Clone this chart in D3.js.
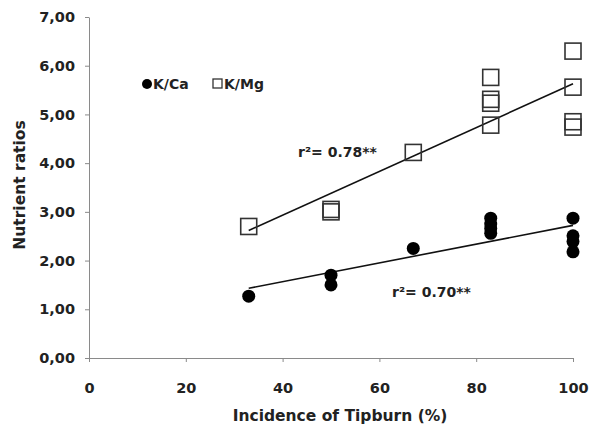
<!DOCTYPE html>
<html>
<head>
<meta charset="utf-8">
<script src="https://cdn.jsdelivr.net/npm/d3@7"></script>
<style>
  body { margin: 0; background: #fff; }
  svg text { font-family: "DejaVu Sans", sans-serif; font-weight: 700; fill: #222; }
</style>
</head>
<body>
<svg id="chart" width="590" height="429"></svg>
<script>
var svg = d3.select("#chart");

// data
const kcaX = [33, 50, 50, 67, 83, 83, 83, 83, 100, 100, 100, 100];
const kcaY = [1.27, 1.70, 1.50, 2.25, 2.87, 2.75, 2.66, 2.56, 2.87, 2.51, 2.39, 2.18];
const kmgX = [33, 50, 50, 67, 83, 83, 83, 83, 100, 100, 100, 100];
const kmgY = [2.70, 3.00, 3.05, 4.22, 5.76, 5.31, 5.23, 4.78, 6.30, 5.56, 4.85, 4.74];
const xTicks = [0, 20, 40, 60, 80, 100];
const yTicks = [0, 1, 2, 3, 4, 5, 6, 7];
const kcaLabel = "r\u00b2= 0.70**";
const kmgLabel = "r\u00b2= 0.78**";

const axisColor = "#8a8a8a";

var x = d3.scaleLinear().domain([0, 100]).range([89, 573]);
var y = d3.scaleLinear().domain([0, 7]).range([358, 17]);

// axes
var xAxis = svg.append("g")
    .attr("transform", "translate(0," + y(0) + ")")
    .call(d3.axisBottom(x).tickValues(xTicks).tickSize(4).tickSizeOuter(0).tickPadding(21));
var yAxis = svg.append("g")
    .attr("transform", "translate(" + x(0) + ",0)")
    .call(d3.axisLeft(y).tickValues(yTicks).tickSize(4).tickSizeOuter(0).tickPadding(10)
        .tickFormat(d => d.toFixed(2).replace(".", ",")));

svg.selectAll(".domain, .tick line").attr("stroke", axisColor).attr("stroke-width", 1);
svg.selectAll(".tick text").style("font-size", "14.5px").attr("fill", "#222");

// axis titles
svg.append("text")
    .attr("x", 340).attr("y", 421)
    .attr("text-anchor", "middle")
    .style("font-size", "15.5px")
    .text("Incidence of Tipburn (%)");
svg.append("text")
    .attr("transform", "translate(25," + 185 + ") rotate(-90)")
    .attr("text-anchor", "middle")
    .style("font-size", "15.5px")
    .text("Nutrient ratios");

// least squares fit
function fit(xs, ys) {
    var mx = d3.mean(xs), my = d3.mean(ys);
    var sxy = d3.sum(xs, (v, i) => (v - mx) * (ys[i] - my));
    var sxx = d3.sum(xs, v => (v - mx) * (v - mx));
    var b = sxy / sxx;
    var a = my - b * mx;
    var x0 = d3.min(xs), x1 = d3.max(xs);
    return [[x0, a + b * x0], [x1, a + b * x1]];
}

var line = d3.line().x(d => x(d[0])).y(d => y(d[1]));

svg.append("path").datum(fit(kmgX, kmgY))
    .attr("d", line).attr("fill", "none").attr("stroke", "#111").attr("stroke-width", 1.6);
svg.append("path").datum(fit(kcaX, kcaY))
    .attr("d", line).attr("fill", "none").attr("stroke", "#111").attr("stroke-width", 1.6);

// K/Mg squares
const sq = 16;
svg.selectAll(".kmg").data(kmgX).enter().append("rect")
    .attr("class", "kmg")
    .attr("x", d => x(d) - sq / 2)
    .attr("y", (d, i) => y(kmgY[i]) - sq / 2)
    .attr("width", sq).attr("height", sq)
    .attr("fill", "none").attr("stroke", "#333").attr("stroke-width", 1.6);

// K/Ca dots
svg.selectAll(".kca").data(kcaX).enter().append("circle")
    .attr("class", "kca")
    .attr("cx", d => x(d))
    .attr("cy", (d, i) => y(kcaY[i]))
    .attr("r", 6.5)
    .attr("fill", "#000");

// r² labels
svg.append("text").attr("x", 298).attr("y", 157).style("font-size", "14px").text(kmgLabel);
svg.append("text").attr("x", 392).attr("y", 297).style("font-size", "14px").text(kcaLabel);

// legend
svg.append("circle").attr("cx", 147).attr("cy", 84).attr("r", 5).attr("fill", "#000");
svg.append("text").attr("x", 153).attr("y", 89).style("font-size", "14px").text("K/Ca");
svg.append("rect").attr("x", 213).attr("y", 79).attr("width", 9).attr("height", 9)
    .attr("fill", "none").attr("stroke", "#333").attr("stroke-width", 1.3);
svg.append("text").attr("x", 224).attr("y", 89).style("font-size", "14px").text("K/Mg");
</script>
</body>
</html>
